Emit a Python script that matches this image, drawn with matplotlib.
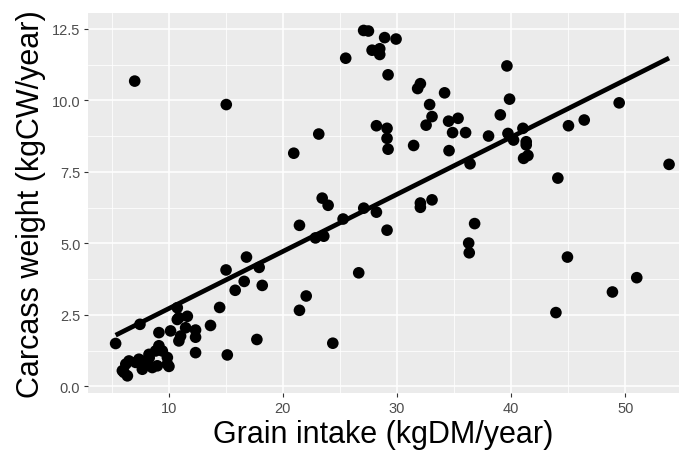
import numpy as np
import matplotlib
matplotlib.use('Agg')
import matplotlib.pyplot as plt
from matplotlib.ticker import MultipleLocator

# Grain intake (kgDM/year) vs carcass weight (kgCW/year)
grain_intake = [
    7.03, 15.05, 20.96, 27.08, 27.5, 28.92, 29.92, 25.51, 27.82, 28.49,
    28.49, 29.22, 32.05, 31.81, 34.17, 32.86, 33.07, 32.55, 34.52, 35.35,
    34.87, 36.01, 28.2, 29.13, 29.13, 29.22, 23.15, 31.46, 34.56, 36.4,
    23.45, 23.97, 33.07, 39.63, 39.86, 39.05, 38.02, 39.72, 40.21, 41.03,
    41.32, 41.32, 41.09, 41.47, 44.09, 45.02, 46.4, 49.46, 53.83,
    21.46, 22.86, 23.59, 25.28, 27.09, 28.2, 29.13, 32.05, 32.05, 26.65,
    22.05, 21.46, 24.38, 36.8, 36.28, 36.33, 44.93, 51.0, 48.87, 43.92,
    16.82, 15.03, 17.93, 16.62, 18.2, 15.83, 14.47, 13.67, 17.73, 12.36,
    15.14, 5.36, 7.49, 10.76, 11.64, 10.9, 12.36, 12.36, 9.15, 10.17,
    11.05, 10.9, 11.49, 10.76, 9.15, 9.45, 8.28, 7.4, 6.53, 5.95,
    6.39, 7.7, 9.01, 9.89, 8.57, 7.11, 6.25, 7.99, 9.89, 8.86,
    6.09, 8.3, 10.03,
]
carcass_weight = [
    10.67, 9.85, 8.15, 12.44, 12.42, 12.19, 12.14, 11.47, 11.75, 11.80,
    11.6, 10.89, 10.58, 10.41, 10.26, 9.85, 9.43, 9.13, 9.27, 9.37,
    8.87, 8.87, 9.11, 9.02, 8.67, 8.29, 8.82, 8.42, 8.24, 7.78,
    6.58, 6.33, 6.52, 11.2, 10.04, 9.49, 8.75, 8.84, 8.61, 9.02,
    8.55, 8.44, 7.97, 8.07, 7.28, 9.11, 9.31, 9.91, 7.76,
    5.63, 5.19, 5.25, 5.85, 6.23, 6.09, 5.46, 6.41, 6.26, 3.97,
    3.16, 2.66, 1.51, 5.69, 5.01, 4.67, 4.52, 3.8, 3.3, 2.58,
    4.52, 4.07, 4.16, 3.67, 3.53, 3.36, 2.76, 2.13, 1.64, 1.18,
    1.1, 1.5, 2.17, 2.75, 2.45, 2.4, 1.97, 1.72, 1.88, 1.94,
    1.76, 1.59, 2.05, 2.34, 1.42, 1.24, 1.12, 0.95, 0.89, 0.55,
    0.37, 0.6, 0.72, 0.78, 0.66, 0.84, 0.78, 0.89, 1.01, 1.24,
    0.49, 1.0, 0.7,
]

# fitted line as drawn in the reference (lm fit)
fit_slope = 0.1998
fit_intercept = 0.72

x = np.array(grain_intake)
y = np.array(carcass_weight)
fit_x = np.array([x.min(), x.max()])
fit_y = fit_slope * fit_x + fit_intercept

plt.rcParams['font.family'] = ['Liberation Sans', 'DejaVu Sans']

fig = plt.figure(figsize=(6.79, 4.56), dpi=100)
ax = fig.add_axes([88 / 679, (456 - 394) / 456, 1 - 88 / 679, (394 - 14) / 456])
ax.set_facecolor('#EBEBEB')

ax.scatter(x, y, s=70, color='black', edgecolors='none', zorder=3)
ax.plot(fit_x, fit_y, color='black', linewidth=3.4, solid_capstyle='butt', zorder=4)

ax.set_xlim(2.94, 54.7)
ax.set_ylim(-0.23, 13.05)

ax.xaxis.set_major_locator(MultipleLocator(10))
ax.xaxis.set_minor_locator(MultipleLocator(5))
ax.yaxis.set_minor_locator(MultipleLocator(1.25))
ax.set_yticks([0, 2.5, 5, 7.5, 10, 12.5])
ax.set_yticklabels(['0.0', '2.5', '5.0', '7.5', '10.0', '12.5'])

ax.grid(which='major', color='white', linewidth=1.1)
ax.grid(which='minor', color='white', linewidth=0.55)
ax.set_axisbelow(True)
for s in ax.spines.values():
    s.set_visible(False)

ax.tick_params(which='major', length=3, width=0.8, color='#333333',
               labelsize=10.5, labelcolor='#4D4D4D', pad=2.5)
ax.tick_params(which='minor', length=0)

ax.set_xlabel('Grain intake (kgDM/year)', fontsize=22, labelpad=3)
ax.set_ylabel('Carcass weight (kgCW/year)', fontsize=22, labelpad=4)

fig.savefig('out.png', dpi=100)
